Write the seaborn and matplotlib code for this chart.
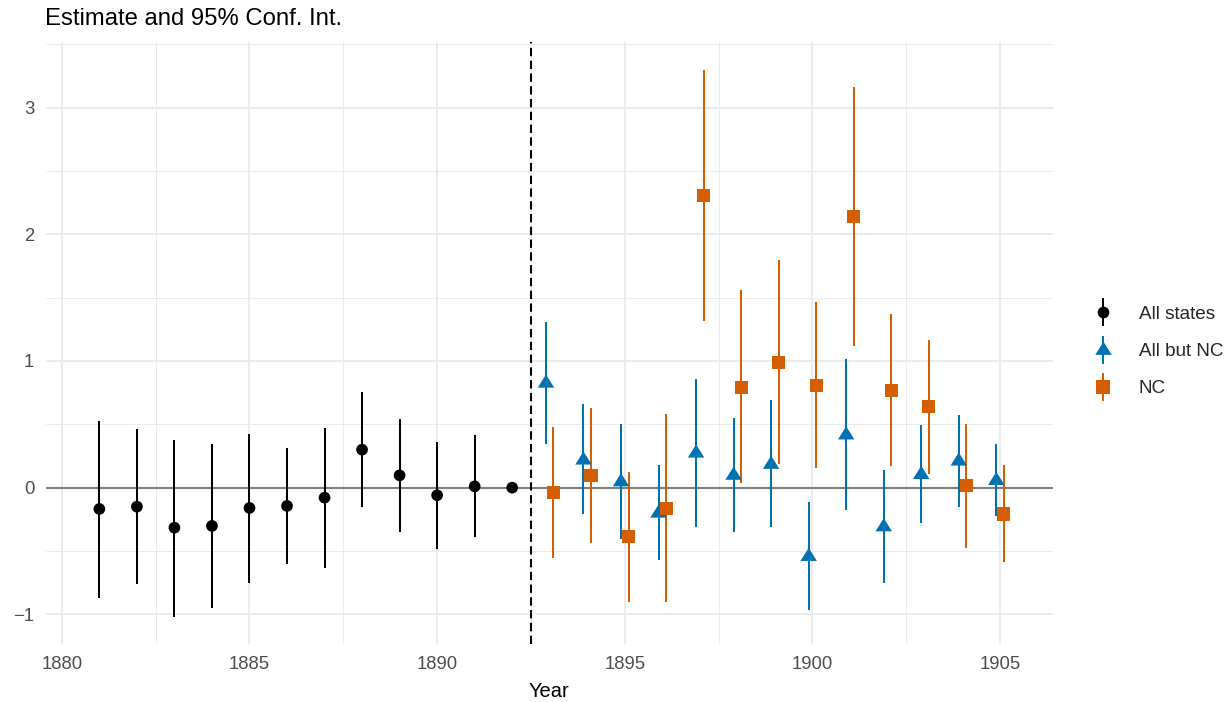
import numpy as np
import pandas as pd
import matplotlib
matplotlib.use("Agg")
import matplotlib.pyplot as plt
from matplotlib.path import Path
from matplotlib.lines import Line2D
from matplotlib.ticker import MultipleLocator
import seaborn as sns

# ---- data: event-study estimates with 95% confidence bounds ----
groups = ["All states", "All but NC", "NC"]

years_pre = [1881, 1882, 1883, 1884, 1885, 1886, 1887, 1888, 1889, 1890, 1891, 1892]
est_all = [-0.168, -0.150, -0.316, -0.302, -0.160, -0.144, -0.079, 0.300, 0.097, -0.060, 0.010, 0.000]
lo_all = [-0.868, -0.763, -1.018, -0.947, -0.750, -0.602, -0.636, -0.155, -0.350, -0.485, -0.390, 0.000]
hi_all = [0.526, 0.463, 0.379, 0.342, 0.424, 0.311, 0.474, 0.755, 0.540, 0.360, 0.415, 0.000]

years_post = [1893, 1894, 1895, 1896, 1897, 1898, 1899, 1900, 1901, 1902, 1903, 1904, 1905]
est_exnc = [0.824, 0.217, 0.045, -0.202, 0.272, 0.097, 0.183, -0.544, 0.415, -0.310, 0.103, 0.209, 0.056]
lo_exnc = [0.345, -0.210, -0.402, -0.573, -0.309, -0.350, -0.314, -0.966, -0.176, -0.754, -0.280, -0.150, -0.220]
hi_exnc = [1.310, 0.658, 0.503, 0.177, 0.861, 0.551, 0.693, -0.111, 1.013, 0.142, 0.495, 0.577, 0.345]

est_nc = [-0.040, 0.098, -0.384, -0.163, 2.306, 0.791, 0.988, 0.810, 2.144, 0.768, 0.642, 0.020, -0.208]
lo_nc = [-0.553, -0.439, -0.900, -0.905, 1.313, 0.036, 0.184, 0.156, 1.120, 0.168, 0.111, -0.473, -0.587]
hi_nc = [0.480, 0.631, 0.126, 0.582, 3.300, 1.560, 1.800, 1.464, 3.164, 1.374, 1.163, 0.505, 0.180]

treatment_year = 1892.5

# ---- long table ----
frames = [
    pd.DataFrame({"group": groups[0], "year": years_pre, "est": est_all, "lo": lo_all, "hi": hi_all}),
    pd.DataFrame({"group": groups[1], "year": years_post, "est": est_exnc, "lo": lo_exnc, "hi": hi_exnc}),
    pd.DataFrame({"group": groups[2], "year": years_post, "est": est_nc, "lo": lo_nc, "hi": hi_nc}),
]
df = pd.concat(frames, ignore_index=True)

# horizontal dodge so overlapping groups sit side by side
dodge = {groups[0]: 0.0, groups[1]: -0.1, groups[2]: 0.1}
df["x"] = df["year"] + df["group"].map(dodge)

# ---- styling ----
palette = {groups[0]: "#000000", groups[1]: "#0072B2", groups[2]: "#D55E00"}
tri = Path([(0, 1.067), (-1, -0.533), (1, -0.533), (0, 1.067)],
           [Path.MOVETO, Path.LINETO, Path.LINETO, Path.CLOSEPOLY])
markers = {groups[0]: "o", groups[1]: tri, groups[2]: "s"}
sizes = {groups[0]: 71, groups[1]: 160, groups[2]: 88}
grid_col = "#EBEBEB"
text_col = "#4D4D4D"
err_lw = 1.45

sns.set_theme(style="white")
plt.rcParams["font.family"] = ["Liberation Sans", "DejaVu Sans"]
plt.rcParams["lines.scale_dashes"] = False

W, H = 1232, 702
fig = plt.figure(figsize=(W / 100, H / 100), dpi=100)
ax = fig.add_axes([45.7 / W, 1 - 644 / H, (1052.6 - 45.7) / W, (644 - 42.2) / H])

# reference lines
ax.axhline(0, color="#7F7F7F", lw=1.5, zorder=1)
ax.axvline(treatment_year, color="black", lw=1.5, dashes=(6, 3.2), zorder=1)

# confidence intervals
for g in groups:
    sub = df[df["group"] == g]
    ax.vlines(sub["x"], sub["lo"], sub["hi"], colors=palette[g], lw=err_lw, zorder=2)

# point estimates
sns.scatterplot(data=df, x="x", y="est", hue="group", style="group", size="group",
                palette=palette, markers=markers, sizes=sizes, hue_order=groups,
                style_order=groups, size_order=groups, linewidth=0, edgecolor="none",
                alpha=1, legend=False, ax=ax, zorder=3)

# axes, grid
ax.set_xlim(1879.57, 1906.4)
ax.set_ylim(-1.234, 3.516)
ax.xaxis.set_major_locator(MultipleLocator(5))
ax.xaxis.set_minor_locator(MultipleLocator(2.5))
ax.yaxis.set_major_locator(MultipleLocator(1))
ax.yaxis.set_minor_locator(MultipleLocator(0.5))
ax.grid(which="major", color=grid_col, lw=1.4)
ax.grid(which="minor", color=grid_col, lw=0.7)
ax.set_axisbelow(True)
for s in ax.spines.values():
    s.set_visible(False)
ax.tick_params(which="both", length=0, labelsize=13.3, labelcolor=text_col)
ax.tick_params(axis="x", pad=8.5)
ax.tick_params(axis="y", pad=8.2)
ax.set_xlabel("Year", fontsize=14.5, color="black", labelpad=6.5)
ax.set_ylabel("")

fig.text(45.0 / W, 1 - 25 / H, "Estimate and 95% Conf. Int.", fontsize=17.2,
         ha="left", va="baseline", color="black")

# legend: vertical interval line with the group's marker on top
handles = []
for g in groups:
    bar = Line2D([], [], marker="|", markersize=20, markeredgewidth=err_lw,
                 color=palette[g], linestyle="none")
    pt = Line2D([], [], marker=markers[g], markersize=np.sqrt(sizes[g]),
                color=palette[g], markeredgewidth=0, linestyle="none")
    handles.append((bar, pt))
ax.legend(handles, groups, loc="center left", bbox_to_anchor=(1093.6 / W, 1 - 351.5 / H),
          bbox_transform=fig.transFigure, frameon=False, fontsize=13.6,
          handlelength=1.0, handletextpad=1.4, labelspacing=1.05,
          borderpad=0, borderaxespad=0)

fig.savefig("out.png", dpi=100)
